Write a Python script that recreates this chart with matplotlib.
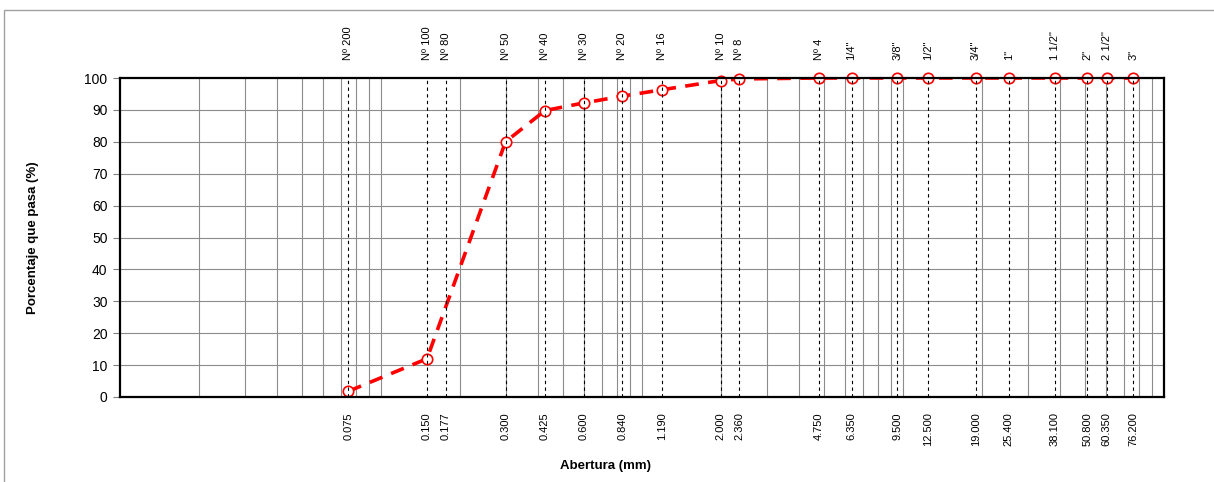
import numpy as np
import matplotlib
matplotlib.use("Agg")
import matplotlib.pyplot as plt
from matplotlib.patches import Rectangle

plt.rcParams['font.family'] = ['Liberation Sans', 'DejaVu Sans']

# sieve data
sieve_names = ["Nº 200", "Nº 100", "Nº 80", "Nº 50", "Nº 40", "Nº 30", "Nº 20", "Nº 16",
               "Nº 10", "Nº 8", "Nº 4", '1/4"', '3/8"', '1/2"', '3/4"', '1"', '1 1/2"',
               '2"', '2 1/2"', '3"']
sieve_mm = [0.075, 0.150, 0.177, 0.300, 0.425, 0.600, 0.840, 1.190, 2.000, 2.360,
            4.750, 6.350, 9.500, 12.500, 19.000, 25.400, 38.100, 50.800, 60.350, 76.200]

# passing percentages (Nº 80 has no value)
curve_mm = [0.075, 0.150, 0.300, 0.425, 0.600, 0.840, 1.190, 2.000, 2.360,
            4.750, 6.350, 9.500, 12.500, 19.000, 25.400, 38.100, 50.800, 60.350, 76.200]
passing = [1.8, 12.0, 80.0, 89.8, 92.2, 94.3, 96.3, 99.2, 99.7,
           100, 100, 100, 100, 100, 100, 100, 100, 100, 100]

fig = plt.figure(figsize=(12.14, 4.82), dpi=100)
fig.patches.append(Rectangle((4 / 1214, -0.1), 1.2, (482 - 10) / 482 + 0.1,
                             transform=fig.transFigure, fill=False,
                             edgecolor='#a0a0a0', lw=1.0))

ax = fig.add_axes([120 / 1214, 85 / 482, 1044 / 1214, 319 / 482])
ax.set_xscale('log')
ax.set_xlim(0.01, 100)
ax.set_ylim(0, 100)

# grid
for dec in [0.01, 0.1, 1, 10]:
    for m in range(1, 10):
        v = dec * m
        if 0.01 < v < 100:
            ax.axvline(v, color='#8c8c8c', lw=0.8, zorder=1)
for yv in range(10, 100, 10):
    ax.axhline(yv, color='#8c8c8c', lw=0.8, zorder=1)

# sieve lines
for s in sieve_mm:
    ax.plot([s, s], [0, 100], color='black', lw=0.8, ls=(0, (3, 3)), zorder=4)

# curve
ax.plot(curve_mm, passing, color='red', lw=2.6, ls=(0, (3.8, 2.6)), zorder=2,
        solid_capstyle='butt', dash_capstyle='butt')
ax.plot(curve_mm, passing, ls='none', marker='o', ms=7.5, mfc='white', mec='red',
        mew=1.2, zorder=3, clip_on=False)

# sieve names on top
for s, name in zip(sieve_mm, sieve_names):
    ax.text(s, 1 + 18 / 319, name, rotation=90, ha='center', va='bottom',
            fontsize=8, transform=ax.get_xaxis_transform())

ax.set_xticks(sieve_mm)
ax.set_xticklabels([f"{s:.3f}" for s in sieve_mm], rotation=90, fontsize=8)
ax.xaxis.set_minor_locator(matplotlib.ticker.NullLocator())
ax.tick_params(axis='x', length=0, pad=11)
ax.set_yticks(range(0, 101, 10))
ax.tick_params(axis='y', labelsize=10, length=5, width=0.8, color='#808080', pad=4)

for sp in ax.spines.values():
    sp.set_linewidth(1.6)
    sp.set_zorder(5)

ax.set_ylabel("Porcentaje que pasa (%)", fontsize=9.5, fontweight='bold')
ax.yaxis.set_label_coords(-0.0776, 0.5)
ax.set_xlabel("Abertura (mm)", fontsize=9.5, fontweight='bold')
ax.xaxis.set_label_coords(0.4646, -0.1975)

fig.savefig("out.png", dpi=100)
